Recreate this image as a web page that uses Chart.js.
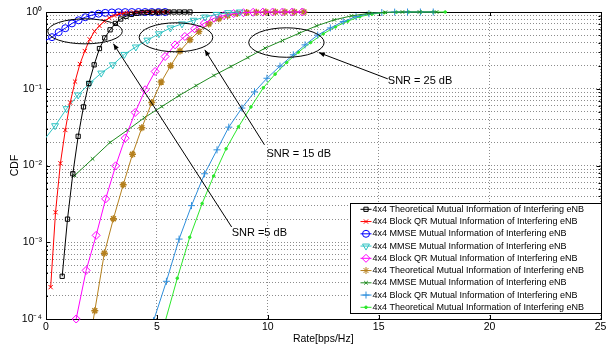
<!DOCTYPE html>
<html>
<head>
<meta charset="utf-8">
<script src="https://cdn.jsdelivr.net/npm/chart.js@4.4.1/dist/chart.umd.min.js"></script>
<style>
  html, body { margin: 0; padding: 0; background: #fff; }
  canvas { display: block; }
</style>
</head>
<body>
<canvas id="chart" width="606" height="348"></canvas>
<script>
// axes
const xTicks = [0, 5, 10, 15, 20, 25];
const yDecades = [-4, -3, -2, -1, 0];

const seriesLabels = [
    '4x4 Theoretical Mutual Information of Interfering eNB',
    '4x4 Block QR Mutual Information of Interfering eNB',
    '4x4 MMSE Mutual Information of Interfering eNB',
    '4x4 MMSE Mutual Information of Interfering eNB',
    '4x4 Block QR Mutual Information of Interfering eNB',
    '4x4 Theoretical Mutual Information of Interfering eNB',
    '4x4 MMSE Mutual Information of Interfering eNB',
    '4x4 Block QR Mutual Information of Interfering eNB',
    '4x4 Theoretical Mutual Information of Interfering eNB'
];

// SNR = 5 dB
const theo5X = [0.73, 0.97, 1.21, 1.45, 1.69, 1.93, 2.17, 2.41, 2.65, 2.89, 3.13, 3.37, 3.61, 3.85, 4.09, 4.33, 4.57, 4.81, 5.05, 5.29, 5.53, 5.77, 6.01, 6.25, 6.49];
const theo5Y = [3.6e-4, 2.0e-3, 7.8e-3, 0.024, 0.058, 0.117, 0.205, 0.334, 0.46, 0.586, 0.71, 0.81, 0.88, 0.93, 0.96, 0.978, 0.988, 0.994, 0.997, 0.999, 1, 1, 1, 1, 1];
const bqr5X = [0.21, 0.43, 0.65, 0.87, 1.09, 1.31, 1.53, 1.75, 1.97, 2.19, 2.41, 2.63, 2.85, 3.07, 3.29, 3.51, 3.73, 3.95, 4.17, 4.39, 4.61, 4.83, 5.05, 5.27, 5.49];
const bqr5Y = [2.6e-4, 2.46e-3, 0.0107, 0.029, 0.066, 0.124, 0.21, 0.31, 0.44, 0.56, 0.66, 0.76, 0.84, 0.9, 0.94, 0.965, 0.98, 0.99, 0.995, 0.998, 1, 1, 1, 1, 1];
const mmse5X = [-0.2, 0.27, 0.57, 0.87, 1.17, 1.47, 1.77, 2.07, 2.37, 2.67, 2.97, 3.27, 3.57, 3.87, 4.17, 4.47, 4.77, 5.07, 5.37];
const mmse5Y = [0.4, 0.47, 0.545, 0.615, 0.71, 0.78, 0.855, 0.91, 0.95, 0.975, 0.987, 0.994, 0.997, 0.999, 1, 1, 1, 1, 1];

// SNR = 15 dB
const mmse15X = [-0.2, 0.41, 0.93, 1.45, 1.97, 2.49, 3.01, 3.53, 4.05, 4.57, 5.09, 5.61, 6.13, 6.65, 7.17, 7.69, 8.21, 8.73];
const mmse15Y = [0.0195, 0.033, 0.055, 0.083, 0.118, 0.16, 0.205, 0.28, 0.35, 0.43, 0.52, 0.62, 0.7, 0.78, 0.86, 0.93, 0.98, 1];
const bqr15X = [1.36, 1.81, 2.26, 2.69, 3.14, 3.57, 4.02, 4.47, 4.92, 5.37, 5.82, 6.26, 6.7, 7.14, 7.58, 8.02, 8.46, 8.9, 9.34, 9.78, 10.22, 10.66, 11.1, 11.55];
const bqr15Y = [1.0e-4, 4.3e-4, 1.23e-3, 3.67e-3, 9.9e-3, 0.0227, 0.049, 0.097, 0.168, 0.263, 0.373, 0.48, 0.604, 0.716, 0.83, 0.9, 0.955, 0.98, 0.993, 0.998, 1, 1, 1, 1];
const theo15X = [1.77, 2.2, 2.63, 3.04, 3.48, 3.9, 4.32, 4.77, 5.19, 5.62, 6.04, 6.49, 6.89, 7.34, 7.79, 8.19, 8.62, 9.05, 9.48, 9.91, 10.34, 10.77, 11.2, 11.63];
const theo15Y = [2.3e-5, 1.28e-4, 7.2e-4, 2.03e-3, 5.6e-3, 0.014, 0.031, 0.066, 0.122, 0.2, 0.31, 0.434, 0.557, 0.7, 0.815, 0.9, 0.955, 0.982, 0.994, 0.998, 1, 1, 1, 1];

// SNR = 25 dB
const mmse25X = [1.29, 2.1, 2.89, 3.68, 4.44, 5.22, 6.0, 6.77, 7.57, 8.34, 9.1, 9.88, 10.66, 11.42, 12.2, 13.0, 13.77, 14.56, 15.3, 16.07, 16.84, 17.61];
const mmse25Y = [7.4e-3, 0.0122, 0.02, 0.029, 0.042, 0.0586, 0.0815, 0.11, 0.149, 0.195, 0.255, 0.338, 0.425, 0.53, 0.66, 0.79, 0.89, 0.96, 0.99, 1, 1, 1];
const bqr25X = [4.85, 5.43, 6.0, 6.56, 7.15, 7.71, 8.24, 8.83, 9.4, 9.96, 10.55, 11.15, 11.68, 12.25, 12.82, 13.4, 13.98, 14.56, 15.14, 15.72, 16.3, 16.88, 17.46];
const bqr25Y = [9.5e-5, 3.1e-4, 1.1e-3, 3.0e-3, 7.8e-3, 0.016, 0.0316, 0.056, 0.091, 0.137, 0.197, 0.277, 0.373, 0.5, 0.62, 0.75, 0.87, 0.95, 0.985, 0.997, 1, 1, 1];
const theo25X = [5.36, 5.92, 6.48, 7.04, 7.56, 8.12, 8.68, 9.24, 9.8, 10.33, 10.85, 11.38, 11.93, 12.5, 13.05, 13.6, 14.15, 14.7, 15.25, 15.8, 16.35, 16.9, 17.45, 18.0];
const theo25Y = [9e-5, 3.4e-4, 1.16e-3, 3.2e-3, 7.3e-3, 0.0165, 0.032, 0.058, 0.103, 0.155, 0.22, 0.3, 0.4, 0.52, 0.64, 0.76, 0.87, 0.94, 0.98, 0.995, 1, 1, 1, 1];

// annotations (data coordinates)
const snrTexts = ['SNR =5 dB', 'SNR = 15 dB', 'SNR = 25 dB'];
const snrTextAt = [[8.37, 1.32e-3], [9.94, 0.0143], [15.41, 0.1267]];
const arrowFrom = [[8.37, 1.58e-3], [9.85, 0.0186], [15.41, 0.1346]];
const arrowTo = [[3.04, 0.385], [7.16, 0.321], [12.3, 0.296]];
const ellipseAt = [[1.76, 0.56], [5.86, 0.468], [10.84, 0.40]];
const ellipseRx = [1.68, 1.66, 1.70];       // x units
const ellipseRy = [0.163, 0.189, 0.192];    // decades

const clear = 'rgba(0,0,0,0)';

const makeSet = (label, xs, ys, color, style, opts = {}) => ({
    label: label,
    data: xs.map((x, i) => ({ x: x, y: ys[i] })),
    borderColor: color,
    backgroundColor: clear,
    borderWidth: 1,
    pointStyle: style,
    pointRadius: opts.r ?? 3,
    pointRotation: opts.rot ?? 0,
    pointBorderColor: color,
    pointBackgroundColor: opts.fill ? color : clear,
    pointBorderWidth: opts.bw ?? 1,
    tension: 0,
    clip: { left: 0, right: 0, top: 6, bottom: opts.clipBottom ?? 0 }
});

const datasets = [
    makeSet(seriesLabels[0], theo5X, theo5Y, '#000000', 'rect', { r: 3 }),
    makeSet(seriesLabels[1], bqr5X, bqr5Y, '#ff0000', 'crossRot', { r: 3 }),
    makeSet(seriesLabels[2], mmse5X, mmse5Y, '#0000ff', 'circle', { r: 3.5 }),
    makeSet(seriesLabels[3], mmse15X, mmse15Y, '#30c4c4', 'triangle', { r: 4, rot: 180 }),
    makeSet(seriesLabels[4], bqr15X, bqr15Y, '#ff00ff', 'rectRot', { r: 4, clipBottom: 6 }),
    makeSet(seriesLabels[5], theo15X, theo15Y, '#b5801e', 'star', { r: 3.5, bw: 1.5 }),
    makeSet(seriesLabels[6], mmse25X, mmse25Y, '#1f8a1f', 'crossRot', { r: 2.5 }),
    makeSet(seriesLabels[7], bqr25X, bqr25Y, '#2f8fdc', 'cross', { r: 3.5 }),
    makeSet(seriesLabels[8], theo25X, theo25Y, '#2ce82c', 'circle', { r: 1.3, fill: true })
];

const supers = { '-': '\u207B', '0': '\u2070', '1': '\u00B9', '2': '\u00B2', '3': '\u00B3', '4': '\u2074' };

// y ticks: 1..9 x 10^e for every decade
const yTickValues = [];
yDecades.forEach((e) => {
    for (let m = 1; m <= (e === 0 ? 1 : 9); m++) yTickValues.push(m * Math.pow(10, e));
});

const axisFont = { family: 'Liberation Sans, Arial, sans-serif', size: 10.5 };

// frame, inward tick marks, ellipses, arrows and the boxed legend
const decorations = {
    id: 'decorations',
    beforeDatasetsDraw(chart) {
        const { ctx, chartArea: a, scales } = chart;
        ctx.save();
        ctx.strokeStyle = '#000';
        ctx.lineWidth = 1;
        ctx.beginPath();
        xTicks.forEach((v) => {
            const px = Math.round(scales.x.getPixelForValue(v)) + 0.5;
            ctx.moveTo(px, a.bottom); ctx.lineTo(px, a.bottom - 4);
            ctx.moveTo(px, a.top); ctx.lineTo(px, a.top + 4);
        });
        yTickValues.forEach((v) => {
            const py = Math.round(scales.y.getPixelForValue(v)) + 0.5;
            const len = Math.abs(Math.log10(v) - Math.round(Math.log10(v))) < 1e-9 ? 4 : 2;
            ctx.moveTo(a.left, py); ctx.lineTo(a.left + len, py);
            ctx.moveTo(a.right, py); ctx.lineTo(a.right - len, py);
        });
        ctx.stroke();
        ctx.strokeRect(Math.round(a.left) + 0.5, Math.round(a.top) + 0.5, Math.round(a.right - a.left), Math.round(a.bottom - a.top));
        ctx.restore();
    },
    afterDatasetsDraw(chart) {
        const { ctx, scales } = chart;
        const px = (p) => [scales.x.getPixelForValue(p[0]), scales.y.getPixelForValue(p[1])];
        ctx.save();
        ctx.strokeStyle = '#000';
        ctx.fillStyle = '#000';
        ctx.lineWidth = 1;

        ellipseAt.forEach((c, i) => {
            const [cx, cy] = px(c);
            const rx = scales.x.getPixelForValue(c[0] + ellipseRx[i]) - cx;
            const ry = cy - scales.y.getPixelForValue(c[1] * Math.pow(10, ellipseRy[i]));
            ctx.beginPath();
            ctx.ellipse(cx, cy, rx, ry, 0, 0, Math.PI * 2);
            ctx.stroke();
        });

        arrowFrom.forEach((f, i) => {
            const [x0, y0] = px(f);
            const [x1, y1] = px(arrowTo[i]);
            const ang = Math.atan2(y1 - y0, x1 - x0);
            ctx.beginPath();
            ctx.moveTo(x0, y0); ctx.lineTo(x1, y1);
            ctx.stroke();
            ctx.beginPath();
            ctx.moveTo(x1, y1);
            ctx.lineTo(x1 - 6 * Math.cos(ang) + 2.5 * Math.sin(ang), y1 - 6 * Math.sin(ang) - 2.5 * Math.cos(ang));
            ctx.lineTo(x1 - 6 * Math.cos(ang) - 2.5 * Math.sin(ang), y1 - 6 * Math.sin(ang) + 2.5 * Math.cos(ang));
            ctx.closePath();
            ctx.fill();
        });

        ctx.font = '11px Liberation Sans, Arial, sans-serif';
        ctx.textAlign = 'left';
        ctx.textBaseline = 'middle';
        snrTexts.forEach((t, i) => {
            const [tx, ty] = px(snrTextAt[i]);
            ctx.fillText(t, tx, ty);
        });
        ctx.restore();
    },
    afterDraw(chart) {
        const { ctx, chartArea: a } = chart;
        const box = { left: a.right - 251, top: a.top + 191, width: 252, height: 110 };
        const rowH = 12.25;
        ctx.save();
        ctx.fillStyle = '#fff';
        ctx.fillRect(box.left, box.top, box.width, box.height);
        ctx.strokeStyle = '#000';
        ctx.lineWidth = 1;
        ctx.strokeRect(Math.round(box.left) + 0.5, Math.round(box.top) + 0.5, box.width - 1, box.height);
        ctx.font = '9px Liberation Sans, Arial, sans-serif';
        ctx.textBaseline = 'middle';
        chart.data.datasets.forEach((ds, i) => {
            const y = box.top + 6.3 + i * rowH;
            const x0 = box.left + 11;
            ctx.strokeStyle = ds.borderColor;
            ctx.lineWidth = 1;
            ctx.beginPath();
            ctx.moveTo(x0, y); ctx.lineTo(x0 + 11, y);
            ctx.stroke();
            if (Chart.helpers && Chart.helpers.drawPoint) {
                ctx.fillStyle = ds.pointBackgroundColor;
                Chart.helpers.drawPoint(ctx, {
                    pointStyle: ds.pointStyle, rotation: ds.pointRotation,
                    radius: ds.pointRadius, borderWidth: ds.pointBorderWidth
                }, x0 + 5.5, y);
            }
            ctx.fillStyle = '#000';
            ctx.fillText(ds.label, x0 + 12, y);
        });
        ctx.restore();
    }
};

new Chart(document.getElementById('chart').getContext('2d'), {
    type: 'line',
    data: { datasets: datasets },
    plugins: [decorations],
    options: {
        responsive: false,
        animation: false,
        devicePixelRatio: 1,
        layout: { padding: { top: 12, right: 3, left: 0, bottom: 0 } },
        plugins: { legend: { display: false }, tooltip: { enabled: false } },
        scales: {
            x: {
                type: 'linear',
                min: 0,
                max: 25,
                afterFit: (s) => { s.height = 29; s.paddingLeft = 0; s.paddingRight = 0; },
                afterBuildTicks: (s) => { s.ticks = xTicks.map((v) => ({ value: v })); },
                ticks: { color: '#000', font: axisFont, padding: 2, maxRotation: 0, autoSkip: false },
                grid: { color: 'rgba(0,0,0,0.45)', drawTicks: false },
                border: { color: '#000', dash: [1, 2] },
                title: { display: true, text: 'Rate[bps/Hz]', color: '#000', font: axisFont, padding: { top: 0, bottom: 3 } }
            },
            y: {
                type: 'logarithmic',
                min: 1e-4,
                max: 1,
                afterFit: (s) => { s.width = 46; s.paddingTop = 0; s.paddingBottom = 0; },
                afterBuildTicks: (s) => { s.ticks = yTickValues.map((v) => ({ value: v })); },
                ticks: {
                    color: '#000', font: axisFont, padding: 4, autoSkip: false,
                    callback: (v) => {
                        const e = Math.log10(v);
                        if (Math.abs(e - Math.round(e)) > 1e-9) return '';
                        return '10' + String(Math.round(e)).split('').map((c) => supers[c]).join('');
                    }
                },
                grid: { color: 'rgba(0,0,0,0.45)', drawTicks: false },
                border: { color: '#000', dash: [1, 2] },
                title: { display: true, text: 'CDF', color: '#000', font: axisFont, padding: { top: 9, bottom: 0 } }
            }
        }
    }
});
</script>
</body>
</html>
